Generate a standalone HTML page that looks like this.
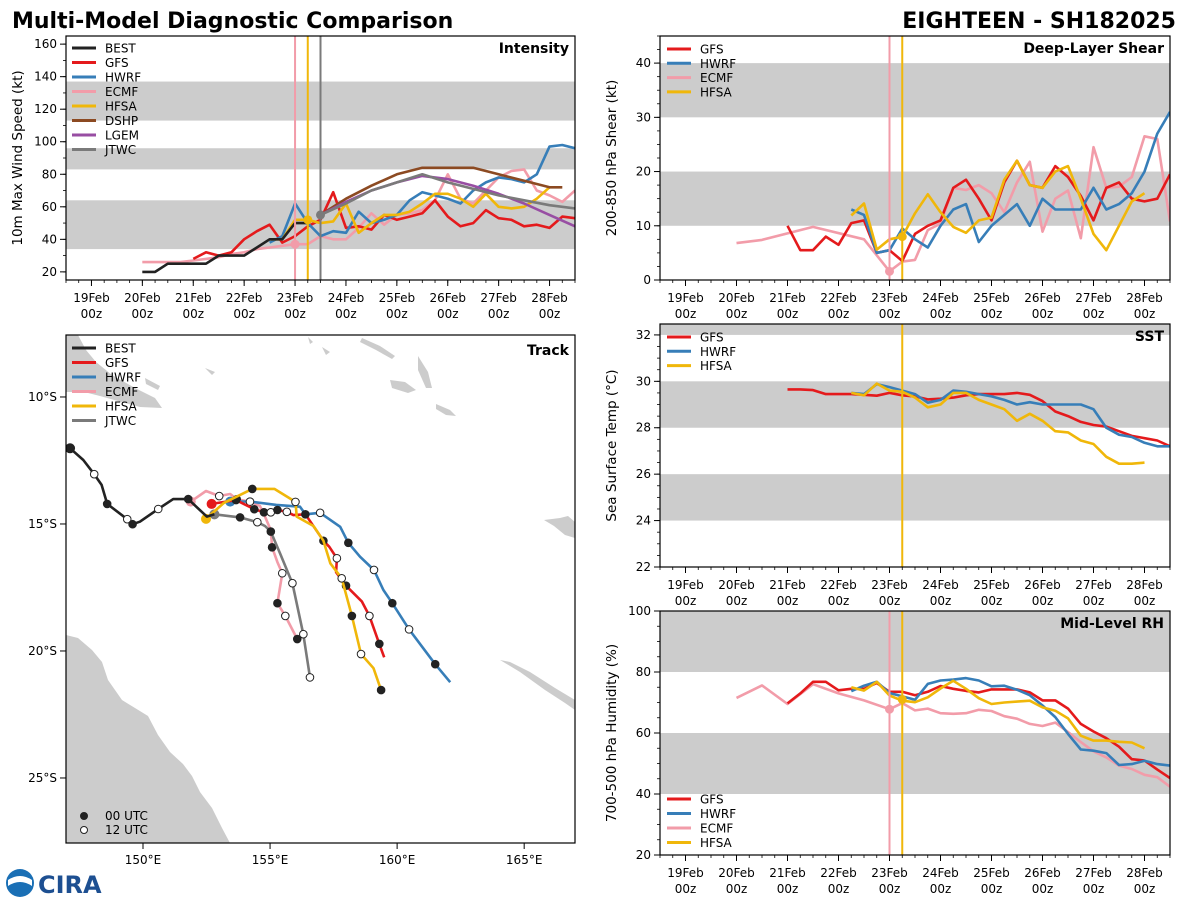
<!DOCTYPE html>
<html><head><meta charset="utf-8">
<style>
html,body{margin:0;padding:0;background:#fff;}
svg{display:block;font-family:"DejaVu Sans","Liberation Sans",sans-serif;}
</style></head>
<body>
<svg id="fig" width="1200" height="900" viewBox="0 0 1200 900" xmlns="http://www.w3.org/2000/svg">
<rect x="0" y="0" width="1200" height="900" fill="#fff"/>
<text x="12" y="28" font-size="22" font-weight="bold">Multi-Model Diagnostic Comparison</text>
<text x="1176" y="28" font-size="22" font-weight="bold" text-anchor="end">EIGHTEEN - SH182025</text>
<g>
<circle cx="20" cy="883" r="14" fill="#1a6fb5"/>
<path d="M8,880 Q20,872 32,880 L32,886 Q20,878 8,886Z" fill="#fff"/>
<text x="38" y="893" font-size="24" font-weight="bold" fill="#1d4f91">CIRA</text>
</g>
</svg>
<script>
// ---------- data ----------
const dayLabels=["19Feb","20Feb","21Feb","22Feb","23Feb","24Feb","25Feb","26Feb","27Feb","28Feb"];
const intBestStart=1.0;
const intBest=[20,20,25,25,25,25,30,30,30,35,40,40,50,50,55];
const intGfsStart=2.0;
const intGfs=[28,32,30,32,40,45,49,38,42,48,52,69,47,48,46,55,52,54,56,64,54,48,50,58,53,52,48,49,47,54,53];
const intHwrfStart=3.5;
const intHwrf=[38,42,62,50,42,45,44,57,50,52,55,64,69,67,65,62,70,75,78,77,75,80,97,98,96];
const intEcmfStart=1.0;
const intEcmf=[26,26,26,26,27,28,29,31,32,34,35,36,37,37,42,40,40,47,56,49,55,56,58,64,80,65,62,70,78,82,83,70,67,63,70];
const intHfsaStart=3.5;
const intHfsa=[40,40,52,52,50,51,62,44,50,55,55,57,62,68,68,65,60,68,60,59,60,65,72];
const intDshpDays=[4.5,5.0,5.5,6.0,6.5,7.0,7.5,8.0,8.5,9.0,9.25];
const intDshp=[55,65,73,80,84,84,84,80,76,72,72];
const intLgemDays=[4.5,5.0,5.5,6.0,6.5,7.0,7.5,8.0,8.5,9.0,9.5];
const intLgem=[55,63,70,75,79,77,73,68,62,55,48];
const intJtwcDays=[4.5,5.0,5.5,6.0,6.5,7.0,7.5,8.0,8.5,9.0,9.5];
const intJtwc=[55,62,70,75,80,75,71,67,64,61,59];
const shrGfsStart=2.0;
const shrGfs=[10,5.5,5.5,8,6.5,10.5,11,5,5.5,3.5,8.5,10,11,17,18.5,15,11,18,22,17.5,17,21,19,15.5,11,17,18,15,14.5,15,19.5];
const shrHwrfStart=3.25;
const shrHwrf=[13,12,5,5.5,9.5,7.5,6,10,13,14,7,10,12,14,10,15,13,13,13,17,13,14,16,20,27,31];
const shrEcmfDays=[1.0,1.5,2.5,3.5,4.0,4.25,4.5,4.75,5.0,5.25,5.5,5.75,6.0,6.25,6.5,6.75,7.0,7.25,7.5,7.75,8.0,8.25,8.5,8.75,9.0,9.25,9.5];
const shrEcmf=[6.8,7.4,9.8,7.5,1.6,3.4,3.7,9.2,10.4,17,16.6,17.5,16,12.5,18,21.8,8.9,15,16.5,7.7,24.5,17,17.2,19,26.5,26,10.8];
const shrHfsaStart=3.25;
const shrHfsa=[11.9,14.1,5.6,7.5,8,12.3,15.8,12.5,9.8,8.7,11,11.5,18.5,22,17.5,17,20,21,15,8.5,5.5,10,14.5,16];
const sstGfsStart=2.0;
const sstGfs=[29.65,29.65,29.62,29.45,29.45,29.45,29.42,29.38,29.5,29.4,29.35,29.22,29.25,29.3,29.4,29.45,29.45,29.45,29.5,29.42,29.15,28.7,28.5,28.25,28.12,28.05,27.85,27.65,27.55,27.45,27.2];
const sstHwrfStart=3.25;
const sstHwrf=[29.5,29.45,29.88,29.75,29.6,29.45,29.08,29.2,29.6,29.55,29.45,29.35,29.2,29.0,29.1,29.0,29.0,29.0,29.0,28.8,28.0,27.7,27.6,27.35,27.2,27.2];
const sstHfsaStart=3.25;
const sstHfsa=[29.5,29.4,29.9,29.6,29.55,29.3,28.88,29.0,29.5,29.5,29.2,29.0,28.8,28.3,28.6,28.3,27.85,27.8,27.45,27.3,26.75,26.45,26.45,26.5];
const rhGfsStart=2.0;
const rhGfs=[69.7,73,76.8,76.8,74,74.5,74.5,76.4,73.5,73.5,72.4,73.5,75.4,74.5,73.8,73.3,74.3,74.3,74.3,73.3,70.7,70.7,68,63,60.5,58.3,55.5,51.4,51,48,45.2];
const rhEcmfDays=[1.0,1.5,2.0,2.5,3.0,3.5,4.0,4.25,4.5,4.75,5.0,5.25,5.5,5.75,6.0,6.25,6.5,6.75,7.0,7.25,7.5,7.75,8.0,8.25,8.5,8.75,9.0,9.25,9.5];
const rhEcmf=[71.5,75.6,69.5,76,73,70.7,67.8,69.8,67.4,68,66.5,66.3,66.5,67.6,67.2,65.5,64.7,63,62.3,63.4,60.3,57,54,52,49.3,48.2,46.3,45.5,42.4];
const rhHwrfStart=3.25;
const rhHwrf=[73.7,75.5,76.8,73.1,72,70.9,76.1,77.2,77.5,78,77.2,75.3,75.5,74.2,72.4,69,65.2,59.7,54.6,54.2,53.4,49.5,49.8,50.9,49.8,49.3];
const rhHfsaStart=3.25;
const rhHfsa=[75,73.9,76.8,72.3,70.6,70.1,71.7,74.6,77.1,74.5,71.4,69.5,70,70.3,70.6,68.4,67.3,64.8,59.1,57.5,57.5,57.1,56.9,55];
const trkBestLon=[147.13,147.65,148.08,148.37,148.59,149.38,149.59,149.88,150.60,151.19,151.78,152.51,152.81];
const trkBestLat=[12.02,12.48,13.04,13.46,14.21,14.81,15.01,14.91,14.41,14.02,14.02,14.71,14.62];
const trkBestMk=[1,0,2,0,1,2,1,0,2,0,1,0,0];
const trkJtwcLon=[152.81,153.82,154.5,154.8,155.03,155.39,155.88,156.31,156.57];
const trkJtwcLat=[14.62,14.74,14.93,15.08,15.30,16.15,17.33,19.34,21.04];
const trkJtwcMk=[0,1,2,0,1,0,2,2,2];
const trkEcmfLon=[151.88,152.48,153.0,153.43,153.69,154.21,154.6,154.8,155.03,155.08,155.29,155.48,155.29,155.6,156.07];
const trkEcmfLat=[14.12,13.70,13.90,13.82,14.03,14.12,14.29,14.71,15.24,15.92,16.5,16.94,18.12,18.62,19.53];
const trkEcmfMk=[0,0,2,0,1,2,0,0,0,1,0,2,1,2,1];
const trkGfsLon=[152.7,153.66,154.38,154.76,155.03,155.29,155.66,155.92,156.39,157.1,157.33,157.63,157.6,157.99,158.61,158.91,159.30,159.49];
const trkGfsLat=[14.21,14.06,14.42,14.54,14.54,14.45,14.52,14.65,14.62,15.66,15.9,16.35,16.9,17.43,18.05,18.62,19.72,20.25];
const trkGfsMk=[0,1,1,1,2,1,2,0,1,1,0,2,0,1,0,2,1,0];
const trkHwrfLon=[153.43,154.21,155.25,156.18,156.39,156.97,157.76,158.08,158.54,159.09,159.46,159.81,160.47,161.5,162.09];
const trkHwrfLat=[14.12,14.12,14.25,14.32,14.62,14.56,15.11,15.74,16.29,16.81,17.6,18.12,19.15,20.52,21.23];
const trkHwrfMk=[0,2,0,0,0,2,0,1,0,2,0,1,2,1,0];
const trkHfsaLon=[152.48,153.17,154.3,155.17,156.0,156.05,156.71,157.1,157.37,157.82,158.22,158.58,159.07,159.37];
const trkHfsaLat=[14.80,14.18,13.62,13.62,14.13,14.71,15.08,15.66,16.55,17.14,18.62,20.12,20.68,21.54];
const trkHfsaMk=[0,0,1,0,2,0,0,0,0,2,1,2,0,1];
</script>
<script>
const NS="http://www.w3.org/2000/svg";
const fig=document.getElementById('fig');
const C={BEST:"#222222",GFS:"#e41a1c",HWRF:"#377eb8",ECMF:"#f29ca9",HFSA:"#f0b70a",DSHP:"#8c4a22",LGEM:"#984ea3",JTWC:"#7a7a7a"};
function mk(tag,attrs,parent){const e=document.createElementNS(NS,tag);for(const k in attrs)e.setAttribute(k,attrs[k]);(parent||fig).appendChild(e);return e;}
function seqDays(start,n){const d=[];for(let i=0;i<n;i++)d.push(start+0.25*i);return d;}

let clipId=0;
function makePanel(name,x0,y0,w,h,ymin,ymax,bands,yticks,yminor,ylabel,title){
  const g=mk('g',{});
  
  
  const sx=d=>x0+(d+0.5)/10*w;
  const sy=v=>y0+h-(v-ymin)/(ymax-ymin)*h;
  const cid='clip'+(clipId++);
  const cp=mk('clipPath',{id:cid},g);mk('rect',{x:x0,y:y0,width:w,height:h},cp);
  const pg=mk('g',{'clip-path':'url(#'+cid+')'},g);
  bands.forEach(b=>{const r=mk('rect',{x:x0,y:sy(b[1]),width:w,height:sy(b[0])-sy(b[1]),fill:'#cccccc'},pg);
    
    });
  yticks.forEach(v=>{mk('line',{x1:x0-6,x2:x0,y1:sy(v),y2:sy(v),stroke:'#000','stroke-width':1},g);
    const t=mk('text',{x:x0-9,y:sy(v)+4,'font-size':12,'text-anchor':'end'},g);t.textContent=v;
    
    });
  for(let v=ymin;v<=ymax+1e-6;v+=yminor){const vv=Math.ceil(v/yminor-1e-6)*yminor;mk('line',{x1:x0-3,x2:x0,y1:sy(vv),y2:sy(vv),stroke:'#000','stroke-width':0.8},g);}
  for(let d=-0.5;d<=9.5;d+=0.25){mk('line',{x1:sx(d),x2:sx(d),y1:y0+h,y2:y0+h+3,stroke:'#000','stroke-width':0.8},g);}
  dayLabels.forEach((lab,i)=>{mk('line',{x1:sx(i),x2:sx(i),y1:y0+h,y2:y0+h+6,stroke:'#000','stroke-width':1},g);
    const t=mk('text',{x:sx(i),y:y0+h+22,'font-size':12,'text-anchor':'middle'},g);t.textContent=lab;
    
    
    const t2=mk('text',{x:sx(i),y:y0+h+38,'font-size':12,'text-anchor':'middle'},g);t2.textContent='00z';
    
    });
  const yl=mk('text',{x:0,y:0,'font-size':13.5,'text-anchor':'middle',transform:`translate(${x0-44},${y0+h/2}) rotate(-90)`},g);yl.textContent=ylabel;
  
  
  const tt=mk('text',{x:x0+w-6,y:y0+17,'font-size':14,'font-weight':'bold','text-anchor':'end'},g);tt.textContent=title;
  
  
  return {g,pg,sx,sy,x0,y0,w,h};
}
function series(P,name,days,vals,color){
  const pts=days.map((d,i)=>P.sx(d).toFixed(1)+','+P.sy(vals[i]).toFixed(1)).join(' ');
  const l=mk('polyline',{points:pts,fill:'none',stroke:color,'stroke-width':2.6,'stroke-linejoin':'round'},P.pg);
  
  
}
function vline(P,d,color){const l=mk('line',{x1:P.sx(d),x2:P.sx(d),y1:P.y0,y2:P.y0+P.h,stroke:color,'stroke-width':2},P.pg);
  
  }
function dot(P,d,v,color){const c=mk('circle',{cx:P.sx(d),cy:P.sy(v),r:4.5,fill:color},P.pg);
  
  }
function frame(P){mk('rect',{x:P.x0,y:P.y0,width:P.w,height:P.h,fill:'none',stroke:'#000','stroke-width':1.2},P.g);}
function legend(P,x,y,names,dy){
  names.forEach((n,i)=>{const lg=mk('g',{},P.g);
    
    
    mk('line',{x1:x,x2:x+24,y1:y+i*dy,y2:y+i*dy,stroke:C[n],'stroke-width':3},lg);
    const t=mk('text',{x:x+33,y:y+i*dy+4.5,'font-size':12},lg);t.textContent=n;});
}

const P1=makePanel('intensity',66,36,509,244,15,165,[[34,64],[83,96],[113,137]],[20,40,60,80,100,120,140,160],10,'10m Max Wind Speed (kt)','Intensity');
series(P1,'ecmf-intensity',seqDays(intEcmfStart,intEcmf.length),intEcmf,C.ECMF);
series(P1,'gfs-intensity',seqDays(intGfsStart,intGfs.length),intGfs,C.GFS);
series(P1,'hwrf-intensity',seqDays(intHwrfStart,intHwrf.length),intHwrf,C.HWRF);
series(P1,'hfsa-intensity',seqDays(intHfsaStart,intHfsa.length),intHfsa,C.HFSA);
series(P1,'dshp-intensity',intDshpDays,intDshp,C.DSHP);
series(P1,'lgem-intensity',intLgemDays,intLgem,C.LGEM);
series(P1,'jtwc-intensity',intJtwcDays,intJtwc,C.JTWC);
series(P1,'best-intensity',seqDays(intBestStart,intBest.length-1),intBest.slice(0,-1),C.BEST);
vline(P1,4.0,C.ECMF);vline(P1,4.25,C.HFSA);vline(P1,4.5,C.JTWC);
dot(P1,4.0,37,C.ECMF);dot(P1,4.25,52,C.HFSA);dot(P1,4.5,55,C.JTWC);
frame(P1);legend(P1,72,48,['BEST','GFS','HWRF','ECMF','HFSA','DSHP','LGEM','JTWC'],14.5);

const P2=makePanel('shear',660,36,510,244,0,45,[[10,20],[30,40]],[0,10,20,30,40],2.5,'200-850 hPa Shear (kt)','Deep-Layer Shear');
series(P2,'ecmf-shear',shrEcmfDays,shrEcmf,C.ECMF);
series(P2,'gfs-shear',seqDays(shrGfsStart,shrGfs.length),shrGfs,C.GFS);
series(P2,'hwrf-shear',seqDays(shrHwrfStart,shrHwrf.length),shrHwrf,C.HWRF);
series(P2,'hfsa-shear',seqDays(shrHfsaStart,shrHfsa.length),shrHfsa,C.HFSA);
vline(P2,4.0,C.ECMF);vline(P2,4.25,C.HFSA);
dot(P2,4.0,1.6,C.ECMF);dot(P2,4.25,8,C.HFSA);
frame(P2);legend(P2,667,49,['GFS','HWRF','ECMF','HFSA'],14.3);

const P3=makePanel('sst',660,324,510,243,22,32.47,[[24,26],[28,30],[32,34]],[22,24,26,28,30,32],0.5,'Sea Surface Temp (°C)','SST');
series(P3,'gfs-sst',seqDays(sstGfsStart,sstGfs.length),sstGfs,C.GFS);
series(P3,'hwrf-sst',seqDays(sstHwrfStart,sstHwrf.length),sstHwrf,C.HWRF);
series(P3,'hfsa-sst',seqDays(sstHfsaStart,sstHfsa.length),sstHfsa,C.HFSA);
vline(P3,4.25,C.HFSA);
frame(P3);legend(P3,667,337,['GFS','HWRF','HFSA'],14.3);

const P4=makePanel('rh',660,611,510,244,20,100,[[40,60],[80,100]],[20,40,60,80,100],5,'700-500 hPa Humidity (%)','Mid-Level RH');
series(P4,'ecmf-rh',rhEcmfDays,rhEcmf,C.ECMF);
series(P4,'gfs-rh',seqDays(rhGfsStart,rhGfs.length),rhGfs,C.GFS);
series(P4,'hwrf-rh',seqDays(rhHwrfStart,rhHwrf.length),rhHwrf,C.HWRF);
series(P4,'hfsa-rh',seqDays(rhHfsaStart,rhHfsa.length),rhHfsa,C.HFSA);
vline(P4,4.0,C.ECMF);vline(P4,4.25,C.HFSA);
dot(P4,4.0,67.8,C.ECMF);dot(P4,4.25,71,C.HFSA);
frame(P4);legend(P4,667,799,['GFS','HWRF','ECMF','HFSA'],14.5);

(function(){
  const x0=66,y0=335,w=509,h=508;
  const lonMin=146.97,lonMax=167.0,latTop=7.56,latBot=27.56;
  const mx=lon=>x0+(lon-lonMin)/(lonMax-lonMin)*w;
  const my=lat=>y0+(lat-latTop)/(latBot-latTop)*h;
  const g=mk('g',{});
  
  
  const cp=mk('clipPath',{id:'mapclip'},g);mk('rect',{x:x0,y:y0,width:w,height:h},cp);
  const pg=mk('g',{'clip-path':'url(#mapclip)'},g);
  const land=[
    "66,635 78,638 92,650 102,662 108,680 122,700 135,708 148,716 158,735 170,752 183,764 192,776 200,792 212,808 222,828 230,843 66,843",
    "66,335 78,335 86,350 96,362 112,375 135,388 155,398 162,408 140,407 118,401 100,396 84,392 66,392",
    "362,338 380,346 395,356 392,359 376,350 360,342",
    "418,356 428,372 432,388 426,388 418,370",
    "390,380 405,382 416,390 408,393 392,388",
    "436,404 450,410 456,416 446,415 436,409",
    "145,378 160,386 158,390 146,384",
    "205,368 215,372 212,375",
    "308,337 313,342 310,344",
    "322,347 330,352 326,355",
    "544,520 554,526 565,535 575,538 575,522 568,516 560,518",
    "500,660 520,672 545,690 565,703 575,710 575,700 555,688 530,672 510,662"
  ];
  land.forEach(p=>{const e=mk('polygon',{points:p,fill:'#cccccc'},pg);
    
    });
  function track(name,lons,lats,mks,color){
    const pts=lons.map((lo,i)=>mx(lo).toFixed(1)+','+my(lats[i]).toFixed(1)).join(' ');
    const l=mk('polyline',{points:pts,fill:'none',stroke:color,'stroke-width':2.6,'stroke-linejoin':'round'},pg);
    
    
    const s=mk('circle',{cx:mx(lons[0]),cy:my(lats[0]),r:5,fill:color},pg);
    
    
    mks.forEach((m,i)=>{if(!m)return;
      const c=mk('circle',{cx:mx(lons[i]),cy:my(lats[i]),r:3.8,fill:m===1?'#222':'#fff',stroke:'#222','stroke-width':1},pg);
      
      });
  }
  track('ecmf-track',trkEcmfLon,trkEcmfLat,trkEcmfMk,C.ECMF);
  track('jtwc-track',trkJtwcLon,trkJtwcLat,trkJtwcMk,C.JTWC);
  track('hwrf-track',trkHwrfLon,trkHwrfLat,trkHwrfMk,C.HWRF);
  track('gfs-track',trkGfsLon,trkGfsLat,trkGfsMk,C.GFS);
  track('hfsa-track',trkHfsaLon,trkHfsaLat,trkHfsaMk,C.HFSA);
  track('best-track',trkBestLon,trkBestLat,trkBestMk,C.BEST);
  mk('rect',{x:x0,y:y0,width:w,height:h,fill:'none',stroke:'#000','stroke-width':1.2},g);
  [150,155,160,165].forEach(lo=>{mk('line',{x1:mx(lo),x2:mx(lo),y1:y0+h,y2:y0+h+6,stroke:'#000'},g);
    const t=mk('text',{x:mx(lo),y:y0+h+21,'font-size':12,'text-anchor':'middle'},g);t.textContent=lo+'°E';
    
    });
  [10,15,20,25].forEach(la=>{mk('line',{x1:x0-6,x2:x0,y1:my(la),y2:my(la),stroke:'#000'},g);
    const t=mk('text',{x:x0-9,y:my(la)+4,'font-size':12,'text-anchor':'end'},g);t.textContent=la+'°S';
    
    });
  const tt=mk('text',{x:x0+w-6,y:y0+20,'font-size':14,'font-weight':'bold','text-anchor':'end'},g);tt.textContent='Track';
  
  
  ['BEST','GFS','HWRF','ECMF','HFSA','JTWC'].forEach((n,i)=>{const lg=mk('g',{},g);
    
    
    mk('line',{x1:72,x2:96,y1:348+i*14.5,y2:348+i*14.5,stroke:C[n],'stroke-width':3},lg);
    const t=mk('text',{x:105,y:352.5+i*14.5,'font-size':12},lg);t.textContent=n;});
  [['00 UTC','#222'],['12 UTC','#fff']].forEach((e,i)=>{const lg=mk('g',{},g);
    
    
    mk('circle',{cx:84,cy:816+i*14,r:3.5,fill:e[1],stroke:'#222'},lg);
    const t=mk('text',{x:105,y:820+i*14,'font-size':12},lg);t.textContent=e[0];});
})();
</script>
</body></html>
